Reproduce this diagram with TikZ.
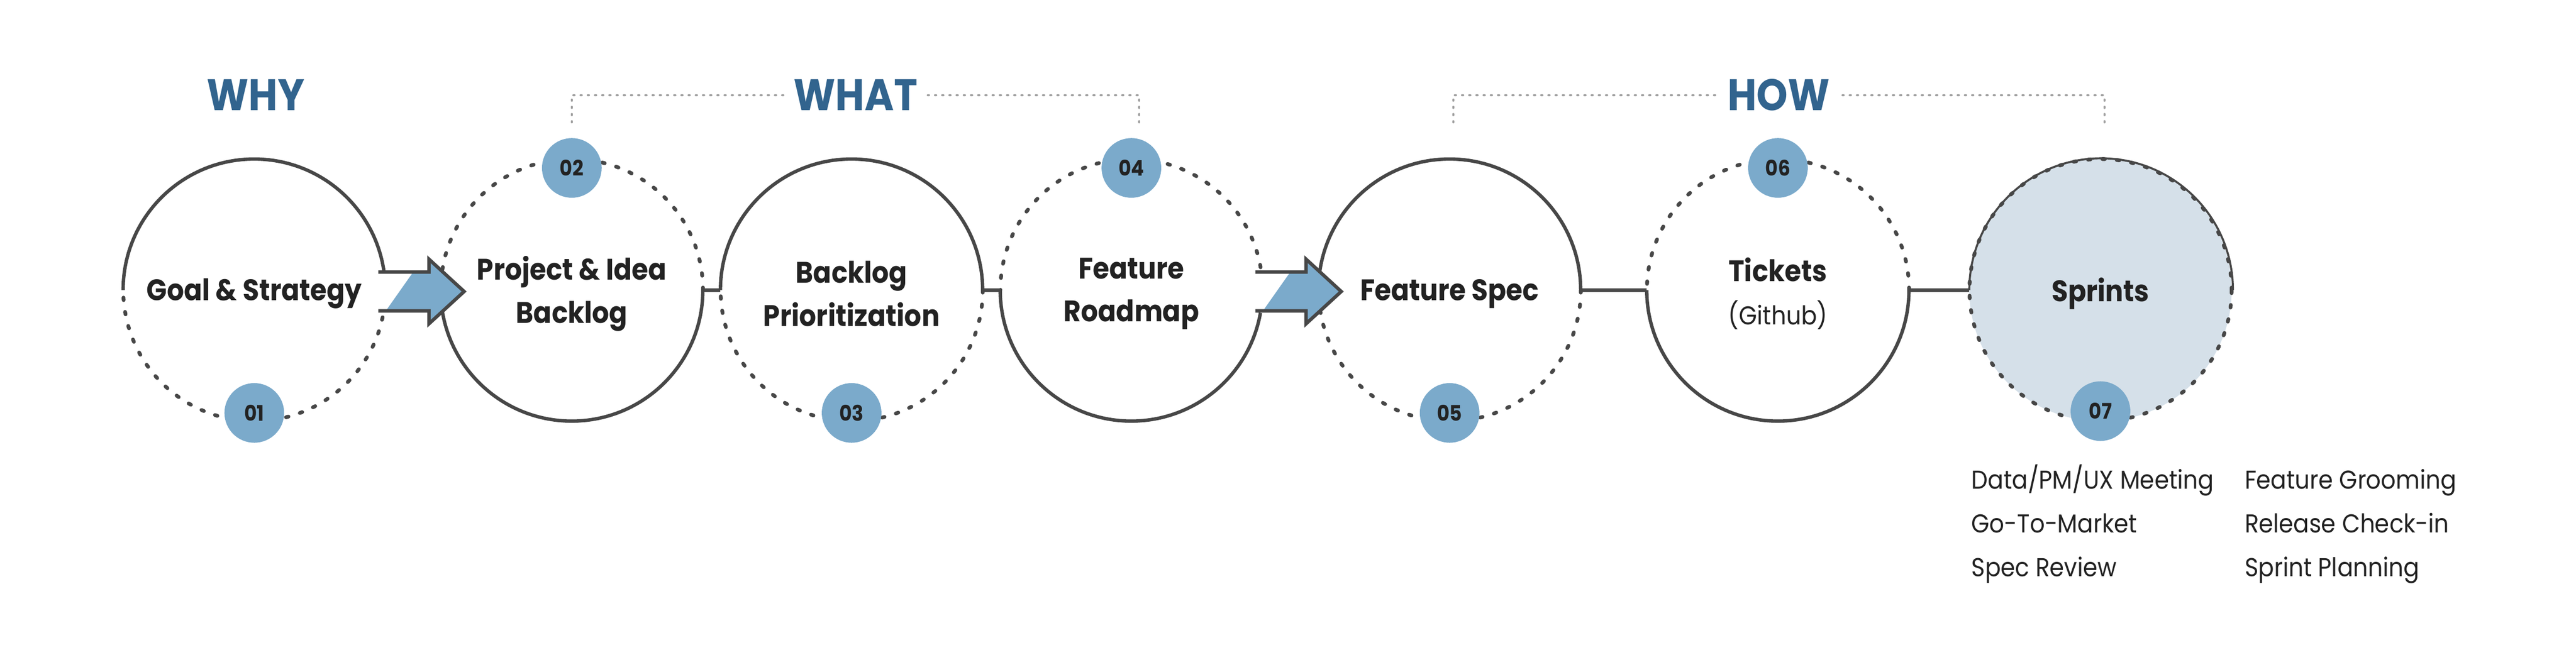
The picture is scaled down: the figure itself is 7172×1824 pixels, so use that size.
\documentclass[tikz,border=0pt]{standalone}
\usepackage{fontspec}
\setmainfont{Poppins}[FakeStretch=0.9]
\usetikzlibrary{arrows,calc,positioning}

\definecolor{lineC}{HTML}{474747}
\definecolor{blueC}{HTML}{7BAACB}
\definecolor{lightC}{HTML}{D5E0E9}
\definecolor{titleC}{HTML}{32648E}
\definecolor{grayC}{HTML}{A0A0A0}
\definecolor{textC}{HTML}{222222}

\begin{document}
\begin{tikzpicture}[x=0.01cm,y=0.01cm,
                    stage/.style={circle,minimum size=7.3cm,inner sep=0pt,outer sep=0pt},
                    solidarc/.style={draw=lineC,line width=2.7pt},
                    dotarc/.style={draw=lineC,line width=3pt,line cap=round,dash pattern=on 2pt off 9.4pt},
                    badge/.style={circle,fill=blueC,minimum size=1.66cm,inner sep=0pt,text=textC,
                                  font=\fontsize{17}{20}\selectfont\bfseries},
                    stagetext/.style={align=center,text=textC,yshift=-0.1cm,
                                      font=\fontsize{23.5}{34}\selectfont\bfseries},
                    headtext/.style={text=titleC,inner xsep=0.25cm,font=\fontsize{35}{40}\selectfont\bfseries},
                    bracket/.style={draw=grayC,line width=1.7pt,line cap=round,dash pattern=on 0.9pt off 4.8pt},
                    listtext/.style={anchor=base west,inner sep=0pt,text=textC,font=\fontsize{20.5}{24}\selectfont},
                    arrowline/.style={draw=lineC,line width=2.7pt,line join=miter}]
	\useasboundingbox (0,0) rectangle (7172,1824);

	% stages
	\node[stage]			(c1) at (708,1016)	{};
	\node[stage]			(c2) at (1592,1016)	{};
	\node[stage]			(c3) at (2371,1016)	{};
	\node[stage]			(c4) at (3150,1016)	{};
	\node[stage]			(c5) at (4036,1016)	{};
	\node[stage]			(c6) at (4950,1016)	{};
	\node[stage,fill=lightC]	(c7) at (5848,1016)	{};

	% half solid, half dotted rims
	\draw[solidarc]	(c1.180) arc[start angle=180,end angle=8.1,radius=365];
	\draw[dotarc]	(c1.-12) arc[start angle=-12,end angle=-180,radius=365];
	\draw[dotarc]	(c2.0) arc[start angle=0,end angle=180,radius=365];
	\draw[solidarc]	(c2.180) arc[start angle=180,end angle=360,radius=365];
	\draw[solidarc]	(c3.180) arc[start angle=180,end angle=0,radius=365];
	\draw[dotarc]	(c3.0) arc[start angle=0,end angle=-180,radius=365];
	\draw[dotarc]	(c4.10) arc[start angle=10,end angle=180,radius=365];
	\draw[solidarc]	(c4.180) arc[start angle=180,end angle=350,radius=365];
	\draw[solidarc]	(c5.180) arc[start angle=180,end angle=0,radius=365];
	\draw[dotarc]	(c5.0) arc[start angle=0,end angle=-180,radius=365];
	\draw[dotarc]	(c6.0) arc[start angle=0,end angle=180,radius=365];
	\draw[solidarc]	(c6.180) arc[start angle=180,end angle=360,radius=365];
	\draw[solidarc,line width=1.6pt]	(c7.180) arc[start angle=180,end angle=0,radius=367];
	\draw[dotarc]	(c7.0) arc[start angle=0,end angle=360,radius=365];

	% links
	\draw[solidarc] (c2.east) -- (c3.west);
	\draw[solidarc] (c3.east) -- (c4.west);
	\draw[solidarc] (c5.east) -- (c6.west);
	\draw[solidarc] (c6.east) -- (c7.west);

	% block arrows
	\foreach \from in {c1,c4}{
		\begin{scope}[shift={(\from.east)}]
			\fill[blueC] (77,50) -- (121,50) -- (121,86) -- (219,-4) -- (121,-94)
			             -- (121,-58) -- (1,-58) -- cycle;
			\draw[arrowline] (-20,50) -- (121,50) -- (121,86) -- (219,-4) -- (121,-94)
			                 -- (121,-58) -- (-20,-58);
		\end{scope}
	}

	% badges
	\node[badge] (b1) at ($(c1.south)+(0,23)$) {01};
	\node[badge] (b2) at ($(c2.north)+(0,-25)$) {02};
	\node[badge] (b3) at ($(c3.south)+(0,23)$) {03};
	\node[badge] (b4) at ($(c4.north)+(0,-25)$) {04};
	\node[badge] (b5) at ($(c5.south)+(0,23)$) {05};
	\node[badge] (b6) at ($(c6.north)+(0,-25)$) {06};
	\node[badge] (b7) at ($(c7.south)+(0,28)$) {07};

	% stage names
	\node[stagetext] (t1) at (c1) {Goal \& Strategy};
	\node[stagetext] (t2) at (c2) {Project \& Idea\\Backlog};
	\node[stagetext] (t3) at (c3) {Backlog\\Prioritization};
	\node[stagetext] (t4) at (c4) {Feature\\Roadmap};
	\node[stagetext] (t5) at (c5) {Feature Spec};
	\node[stagetext] (t6) at (c6) {Tickets\\{\mdseries\fontsize{20.5}{34}\selectfont(Github)}};
	\node[stagetext] (t7) at (c7) {Sprints};

	% why / what / how
	\node[headtext] (why)  at (712,1559)  {WHY};
	\node[headtext] (what) at (2382,1559) {WHAT};
	\node[headtext] (how)  at (4952,1559) {HOW};
	\draw[bracket] (c2.north) ++(0,102) |- (what.west);
	\draw[bracket] (c4.north) ++(22,102) |- (what.east);
	\draw[bracket] (c5.north) ++(10,102) |- (how.west);
	\draw[bracket] (c7.north) ++(11,102) |- (how.east);

	% sprint rituals
	\node[listtext] (s1) at (5488,462) {Data/PM/UX Meeting};
	\node[listtext] (s2) at (5488,340) {Go-To-Market};
	\node[listtext] (s3) at (5488,218) {Spec Review};
	\node[listtext] (s4) at (6249,462) {Feature Grooming};
	\node[listtext] (s5) at (6249,340) {Release Check-in};
	\node[listtext] (s6) at (6249,218) {Sprint Planning};
\end{tikzpicture}
\end{document}
